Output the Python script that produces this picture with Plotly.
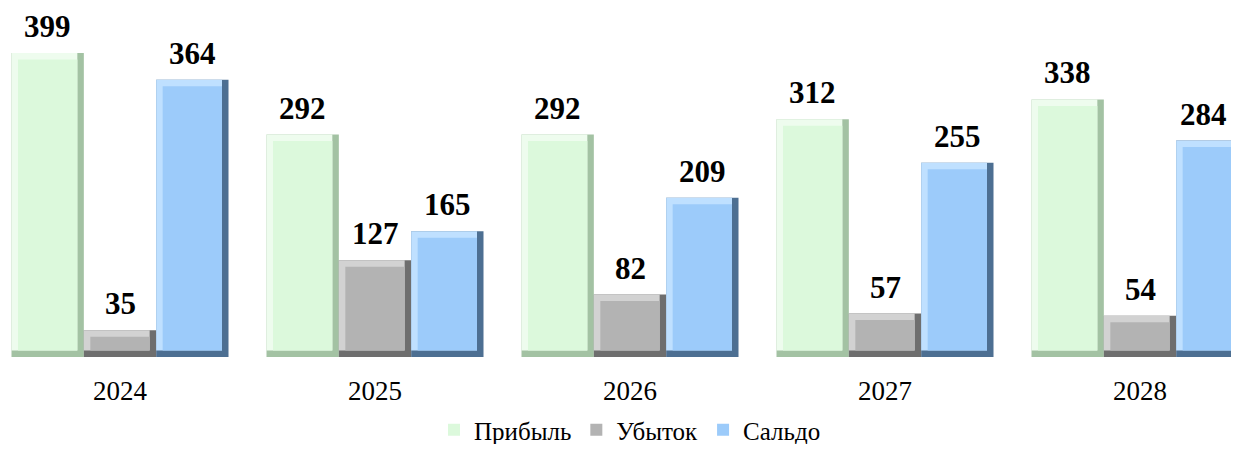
import plotly.graph_objects as go

years = ["2024", "2025", "2026", "2027", "2028"]
profit = [399, 292, 292, 312, 338]
loss = [35, 127, 82, 57, 54]
balance = [364, 165, 209, 255, 284]
series_names = ["Прибыль", "Убыток", "Сальдо"]

series_values = [profit, loss, balance]
# (dark edge, light edge, main fill)
palettes = [
    ("#a3c2a3", "#eefcee", "#dcf9dc"),
    ("#6e6e6e", "#d2d2d2", "#b3b3b3"),
    ("#4d6f92", "#bfe0ff", "#9ccbfa"),
]

# the page adds an 8px body margin; size the figure so nothing overflows the window
PAGE_OFF = 8
W, H = 1239 - 2 * PAGE_OFF, 452 - 2 * PAGE_OFF
px_per_x = 255.0
px_per_y = 304.0 / 399.0
bottom_page = 357
plot_h = bottom_page - PAGE_OFF
ymax = plot_h / px_per_y
x_first_page = 120
x_right_page = PAGE_OFF + W

G = 0.851
w = G / 3
bx = 6.5 / px_per_x
by = 6.5 / px_per_y
label_half = 25
SERIF = "Liberation Serif, DejaVu Serif, serif"

xs = list(range(len(years)))
fig = go.Figure()
annotations = []
for k, (name, vals, (dark, light, main)) in enumerate(zip(series_names, series_values, palettes)):
    off = -G / 2 + k * w
    fig.add_trace(go.Bar(x=xs, y=vals, base=0, offset=off, width=w,
                         marker=dict(color=dark, line=dict(width=0)),
                         showlegend=False, hoverinfo="skip"))
    fig.add_trace(go.Bar(x=xs, y=[v - by for v in vals], base=by, offset=off, width=w - bx,
                         marker=dict(color=light, line=dict(width=0)),
                         showlegend=False, hoverinfo="skip"))
    fig.add_trace(go.Bar(x=xs, y=[v - 2 * by for v in vals], base=by, offset=off + bx, width=w - 2 * bx,
                         marker=dict(color=main, line=dict(width=0)),
                         name=name, showlegend=True))
    for i, v in zip(xs, vals):
        xc = i + off + w / 2
        centre_px = x_first_page + xc * px_per_x
        shift = min(0, (x_right_page - 3) - (centre_px + label_half))
        annotations.append(dict(x=xc, y=v, text=f"<b>{v}</b>", showarrow=False,
                                xref="x", yref="y", yanchor="bottom", yshift=7, xshift=shift,
                                font=dict(family=SERIF, size=31, color="#000000")))

fig.update_layout(
    width=W, height=H,
    margin=dict(l=0, r=0, t=0, b=H - plot_h),
    paper_bgcolor="white", plot_bgcolor="white",
    barmode="overlay",
    showlegend=True,
    legend=dict(orientation="h", x=(630 - PAGE_OFF) / W, xanchor="center",
                yref="container", y=(452 - 438) / H, yanchor="middle",
                font=dict(family=SERIF, size=25, color="#000000"),
                itemwidth=30, traceorder="normal"),
    xaxis=dict(range=[(PAGE_OFF - x_first_page) / px_per_x, (x_right_page - x_first_page) / px_per_x],
               tickvals=xs, ticktext=years,
               showgrid=False, zeroline=False, showline=False, ticks="",
               ticklabelstandoff=15,
               tickfont=dict(family=SERIF, size=27, color="#000000")),
    yaxis=dict(range=[0, ymax], visible=False),
    annotations=annotations,
    font=dict(family=SERIF),
)
fig.write_html("out.html")
